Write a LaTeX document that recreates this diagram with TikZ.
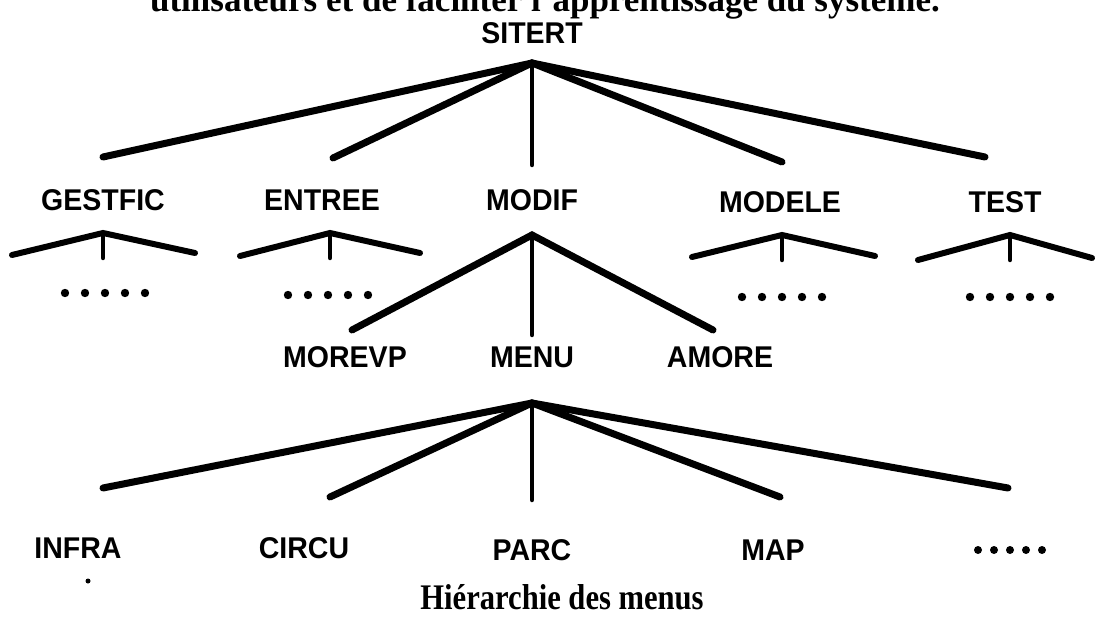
\documentclass[tikz,border=0pt]{standalone}
\usepackage{fontspec}
\setmainfont{Liberation Serif}
\newfontfamily\labfont[FakeStretch=0.95]{Liberation Sans}
\newfontfamily\capfont[FakeStretch=0.85]{Liberation Serif}
\begin{document}
\begin{tikzpicture}[x=1pt,y=-1pt,
  lab/.style={font=\labfont\bfseries\fontsize{30}{32}\selectfont, inner sep=0pt, anchor=center},
  br/.style={line width=7pt, line cap=round},
  vt/.style={line width=4.5pt, line cap=round}]
\useasboundingbox (0,0) rectangle (1095,617);
\clip (0,0) rectangle (1095,617);
% top partial text
\node[anchor=base east, inner sep=0pt, font=\bfseries\fontsize{35}{37}\selectfont] (toptext) at (940,12) {utilisateurs et de faciliter l'apprentissage du système.};
% root
\node[lab] (sitert) at (532,33) {SITERT};
\coordinate (sA) at (532,63);
\coordinate (gE) at (103,157);
\coordinate (eE) at (333,158);
\coordinate (mE) at (532,165);
\coordinate (dE) at (782,162);
\coordinate (tE) at (985,157);
\draw[br] (gE) -- (sA) -- (tE);
\draw[br] (eE) -- (sA) -- (dE);
\draw[vt] (sA) -- (mE);
% level 1
\node[lab] (gestfic) at (103,200) {GESTFIC};
\node[lab] (entree) at (322,200) {ENTREE};
\node[lab] (modif) at (532,200) {MODIF};
\node[lab] (modele) at (780,202) {MODELE};
\node[lab] (test) at (1005,202) {TEST};
% small fans
\foreach \n/\ax/\ay/\lx/\ly/\rx/\ry in {g/103/233/12/255/195/253, e/330/233/240/256/420/253, d/782/235/692/257/875/256, t/1010/235/918/260/1092/258}{
  \coordinate (\n fA) at (\ax,\ay);
  \coordinate (\n fL) at (\lx,\ly);
  \coordinate (\n fR) at (\rx,\ry);
  \coordinate (\n fV) at (\ax,\ay+25);
  \draw[br, line width=6pt] (\n fL) -- (\n fA) -- (\n fR);
  \draw[vt] (\n fA) -- (\n fV);
}
\foreach \n/\cx/\cy in {g/105/293, e/328/295, d/782/297, t/1010/297}{
  \foreach \k in {-2,...,2}{
    \fill (\cx+\k*20,\cy) circle (4.2);
  }
}
% MODIF subtree
\coordinate (mA) at (532,235);
\coordinate (mvE) at (352,330);
\coordinate (mnE) at (532,335);
\coordinate (amE) at (713,330);
\draw[br] (mvE) -- (mA) -- (amE);
\draw[vt] (mA) -- (mnE);
\node[lab] (morevp) at (345,357) {MOREVP};
\node[lab] (menu) at (532,357) {MENU};
\node[lab] (amore) at (720,357) {AMORE};
% MENU subtree
\coordinate (nA) at (532,403);
\coordinate (iE) at (103,488);
\coordinate (cE) at (330,497);
\coordinate (pE) at (532,500);
\coordinate (mpE) at (780,497);
\coordinate (xE) at (1008,488);
\draw[br] (iE) -- (nA) -- (xE);
\draw[br] (cE) -- (nA) -- (mpE);
\draw[vt] (nA) -- (pE);
\node[lab] (infra) at (78,548) {INFRA};
\node[lab] (circu) at (304,548) {CIRCU};
\node[lab] (parc) at (532,550) {PARC};
\node[lab] (map) at (773,550) {MAP};
\foreach \k in {-2,...,2}{
  \fill (1010+\k*16,550) circle (4);
}
\fill (88,581) circle (2.5);
% caption
\node[anchor=center, inner sep=0pt, font=\capfont\bfseries\fontsize{36}{38}\selectfont] (caption) at (562,597) {Hiérarchie des menus};
\end{tikzpicture}
\end{document}
